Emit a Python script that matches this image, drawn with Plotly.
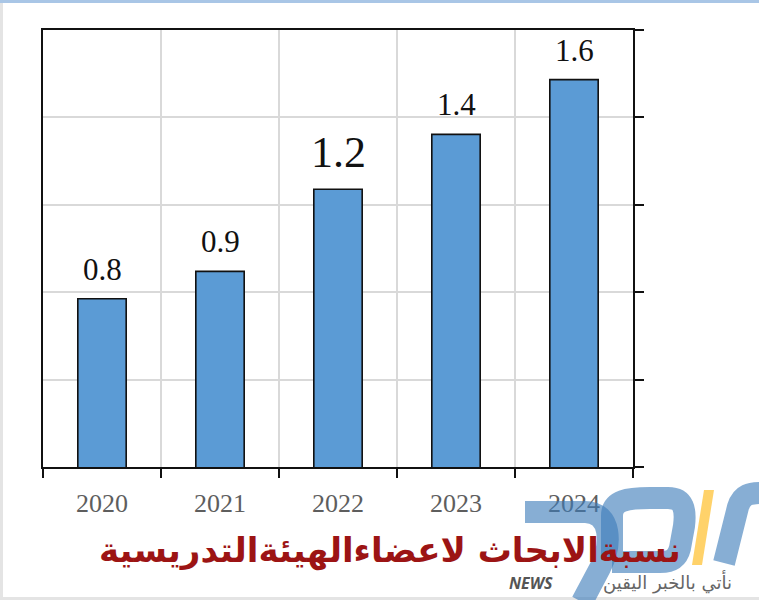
import numpy as np
import plotly.graph_objects as go

# ---- data ----
years = ["2020", "2021", "2022", "2023", "2024"]
values = [0.8, 0.9, 1.2, 1.4, 1.6]
label_sizes = [31, 31, 44, 31, 31]
title_text = "نسبةالابحاث لاعضاءالهيئةالتدريسية"
news_text = "NEWS"
slogan_text = "نأتي بالخبر اليقين"

# ---- layout geometry (pixels) ----
W, H = 759, 600
L, R, T, B = 43, 633, 30, 467
y_lo, y_hi = 0.186, 1.781
grid_vals = list(np.linspace(y_lo, y_hi, 6))


def px(x):
    return (x - L) / (R - L)


def py(y):
    return (B - y) / (B - T)


fig = go.Figure()
fig.add_trace(go.Bar(
    x=years, y=values, width=0.41,
    marker=dict(color="#5B9BD5", line=dict(color="#111111", width=1.6)),
    hoverinfo="x+y",
))

annotations = []
for i, (v, s) in enumerate(zip(values, label_sizes)):
    annotations.append(dict(
        x=i, y=v, xref="x", yref="y", text=f"{v:.1f}", showarrow=False,
        xanchor="center", yanchor="bottom", yshift=10,
        font=dict(family="Liberation Serif", size=s, color="#111111"),
    ))

# title
annotations.append(dict(
    x=px(390), y=py(550), xref="paper", yref="paper", text=title_text,
    showarrow=False, xanchor="center", yanchor="middle",
    font=dict(family="DejaVu Sans", size=34, color="#9c1414", weight="bold"),
))

shapes = []
# page frame strips
shapes.append(dict(type="rect", xref="paper", yref="paper", layer="below",
                   x0=px(0), x1=px(3), y0=py(0), y1=py(600),
                   fillcolor="#e4e4e4", line=dict(width=0)))
shapes.append(dict(type="rect", xref="paper", yref="paper", layer="below",
                   x0=px(0), x1=px(759), y0=py(597), y1=py(600),
                   fillcolor="#e4e4e4", line=dict(width=0)))
shapes.append(dict(type="rect", xref="paper", yref="paper", layer="below",
                   x0=px(0), x1=px(759), y0=py(0), y1=py(3),
                   fillcolor="#a9c6e6", line=dict(width=0)))


def path(points_cmds):
    out = []
    for c in points_cmds:
        if isinstance(c, str):
            out.append(c)
        else:
            out.append(f"{px(c[0]):.5f},{py(c[1]):.5f}")
    return " ".join(out)


logo_blue = "rgba(62,124,186,0.62)"
# watermark logo strokes
shapes.append(dict(type="path", xref="paper", yref="paper", layer="above",
                   path=path(["M", (525, 512), "L", (585, 512), "C", (612, 512), (612, 545), (600, 568),
                              "L", (582, 602)]),
                   line=dict(color=logo_blue, width=22)))
shapes.append(dict(type="path", xref="paper", yref="paper", layer="above",
                   path=path(["M", (612, 560), "L", (612, 516), "C", (612, 500), (628, 498), (650, 498),
                              "L", (668, 498), "C", (684, 498), (686, 510), (684, 526),
                              "L", (680, 548), "C", (677, 560), (670, 562), (660, 562), "L", (612, 562)]),
                   line=dict(color=logo_blue, width=22)))
shapes.append(dict(type="path", xref="paper", yref="paper", layer="above",
                   path=path(["M", (724, 563), "L", (738, 507), "C", (742, 494), (750, 493), (762, 493)]),
                   line=dict(color=logo_blue, width=22)))
shapes.append(dict(type="path", xref="paper", yref="paper", layer="above",
                   path=path(["M", (704, 490), "L", (714, 490), "L", (702, 565), "L", (692, 565), "Z"]),
                   fillcolor="rgba(255,205,90,0.9)", line=dict(width=0)))

annotations.append(dict(
    x=px(531), y=py(583), xref="paper", yref="paper", text=news_text,
    showarrow=False, xanchor="center", yanchor="middle",
    font=dict(family="Open Sans", size=16, color="#555555", weight="bold", style="italic"),
))
annotations.append(dict(
    x=px(667), y=py(582), xref="paper", yref="paper", text=slogan_text,
    showarrow=False, xanchor="center", yanchor="middle",
    font=dict(family="DejaVu Sans", size=18, color="#666666"),
))

fig.update_layout(
    width=W, height=H, autosize=False,
    margin=dict(l=L, r=W - R, t=T, b=H - B, pad=0),
    paper_bgcolor="white", plot_bgcolor="white",
    showlegend=False, bargap=0.59,
    annotations=annotations, shapes=shapes,
    xaxis=dict(
        type="category", range=[-0.5, 4.5], tickson="boundaries",
        ticks="outside", ticklen=9, tickwidth=2, tickcolor="#111111",
        ticklabelstandoff=12,
        showline=True, linewidth=2, linecolor="#111111", mirror=True,
        showgrid=True, gridcolor="#d9d9d9", gridwidth=2,
        tickfont=dict(family="Liberation Serif", size=26, color="#5e5e5e"),
    ),
    yaxis=dict(
        side="right", range=[y_lo, y_hi], tickmode="array", tickvals=grid_vals,
        showticklabels=False, ticks="outside", ticklen=9, tickwidth=2, tickcolor="#111111",
        showline=True, linewidth=2, linecolor="#111111", mirror=True,
        showgrid=True, gridcolor="#d9d9d9", gridwidth=2, zeroline=False,
    ),
)

fig.write_html("out.html", config={"displayModeBar": False},
               post_script="document.body.style.margin='0px';document.body.style.overflow='hidden';")
